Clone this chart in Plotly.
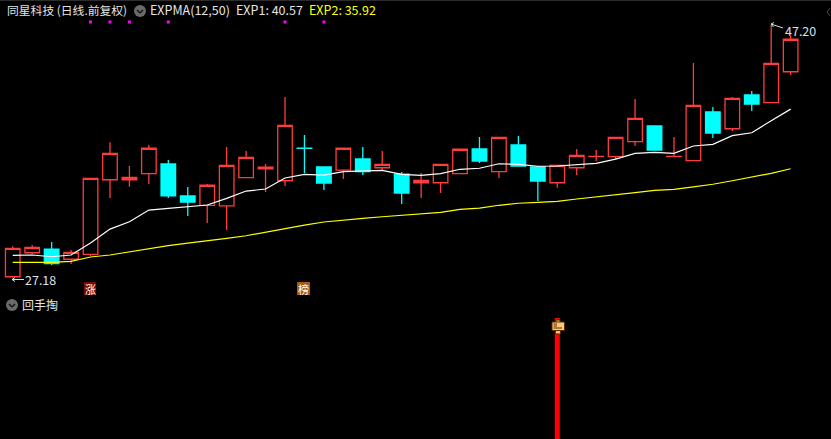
import plotly.graph_objects as go

W, H = 831, 439
FONT = "Noto Sans CJK SC, Noto Sans, sans-serif"

index = list(range(41))
opens = [27.20,29.11,29.40,28.59,28.98,34.91,34.91,35.39,36.16,33.62,32.88,32.84,35.07,35.78,34.83,37.41,35.92,35.68,36.56,35.86,35.36,34.67,34.67,35.39,37.35,35.55,37.67,35.92,34.67,35.86,36.76,36.74,37.93,39.18,36.76,36.42,40.29,38.96,41.64,41.03,43.49]
highs = [29.62,29.72,29.96,29.33,35.02,37.88,36.00,37.67,36.48,34.33,34.57,37.51,37.19,36.16,41.48,38.46,35.92,37.41,37.51,37.19,35.52,35.44,36.13,37.33,38.30,38.28,38.38,35.97,36.05,37.35,37.27,38.28,41.32,39.18,38.30,44.18,40.69,41.48,41.96,47.20,46.33]
lows = [27.18,29.01,28.13,28.21,28.85,33.46,34.35,34.57,33.46,32.03,31.47,30.91,35.07,33.93,34.41,35.44,34.09,34.97,35.28,35.68,32.98,33.46,33.85,35.39,36.24,35.05,36.00,33.22,34.27,35.28,36.40,36.56,37.59,37.27,36.76,36.42,38.22,38.78,40.37,41.03,43.23]
closes = [29.46,29.54,28.24,29.14,35.02,37.01,35.10,37.41,33.62,33.14,34.47,36.05,36.69,35.90,39.23,37.40,34.65,37.41,35.55,36.13,33.85,34.86,36.13,37.33,36.40,38.28,36.00,34.81,36.05,36.85,36.77,38.28,39.79,37.27,36.77,40.82,38.62,41.38,40.92,44.16,46.07]
exp1 = [28.90,28.93,28.79,28.93,29.88,30.99,31.57,32.50,32.64,32.74,32.90,33.43,34.01,34.17,35.05,35.34,35.28,35.55,35.58,35.66,35.34,35.26,35.39,35.74,35.82,36.18,36.13,35.98,36.00,36.10,36.21,36.55,37.01,37.09,37.01,37.59,37.72,38.41,38.64,39.60,40.52]
exp2 = [28.35,28.35,28.35,28.43,28.77,28.93,29.17,29.46,29.67,29.88,30.04,30.25,30.46,30.76,31.07,31.31,31.55,31.71,31.84,31.97,32.08,32.16,32.32,32.56,32.66,32.88,33.04,33.11,33.19,33.38,33.54,33.67,33.88,34.07,34.15,34.35,34.55,34.83,35.10,35.42,35.78]
signal_index = [4, 5, 6, 8, 14, 16]
signal_price = [47.44] * 6
hand_index = [28]
hand_value = [1]

title_text = "同星科技 (日线.前复权)"
indicator_text = "EXPMA(12,50)"
exp1_text = "EXP1: 40.57"
exp2_text = "EXP2: 35.92"
high_text = "47.20"
low_text = "27.18"
panel_text = "回手掏"

RED = "#ff3c3c"
CYAN = "#00ffff"

def px(x): return x / W
def py(y): return 1 - y / H

fig = go.Figure()
fig.add_trace(go.Candlestick(
    x=index, open=opens, high=highs, low=lows, close=closes,
    increasing=dict(line=dict(color=RED, width=1.3), fillcolor="rgba(0,0,0,0)"),
    decreasing=dict(line=dict(color=CYAN, width=1.3), fillcolor=CYAN),
    whiskerwidth=0, showlegend=False, hoverinfo="skip"))
fig.add_trace(go.Scatter(x=index, y=exp1, mode="lines", line=dict(color="#ffffff", width=1.2), showlegend=False, hoverinfo="skip"))
fig.add_trace(go.Scatter(x=index, y=exp2, mode="lines", line=dict(color="#ffff00", width=1.2), showlegend=False, hoverinfo="skip"))
fig.add_trace(go.Scatter(x=signal_index, y=signal_price, mode="markers", marker=dict(symbol="square", size=3, color="#ff00ff"), showlegend=False, hoverinfo="skip"))
fig.add_trace(go.Bar(x=hand_index, y=hand_value, width=[0.26], yaxis="y2", marker=dict(color="#ff0000", line=dict(width=0)), showlegend=False, hoverinfo="skip"))

def text(x, y, s, color="#e4e4e4", size=12, anchor="left"):
    fig.add_annotation(xref="paper", yref="paper", x=px(x), y=py(y), text=s, showarrow=False,
                       xanchor=anchor, yanchor="middle", font=dict(family=FONT, size=size, color=color))

text(5, 10, title_text, size=11.8)
text(148, 10, indicator_text, size=12.5)
text(234, 10, exp1_text, size=12.5)
text(307, 10, exp2_text, color="#ffff00", size=12.5)
text(783, 30, high_text, color="#d6e2ee", size=12.5)
text(23, 279.5, low_text, color="#d6e2ee", size=12.5)
text(20, 304, panel_text, size=12)

shapes = []
def rect(x0, y0, x1, y1, fill, line=None, lw=0):
    shapes.append(dict(type="rect", xref="paper", yref="paper", x0=px(x0), x1=px(x1), y0=py(y0), y1=py(y1),
                       fillcolor=fill, line=dict(color=line or fill, width=lw), layer="above"))
def seg(x0, y0, x1, y1, color, lw=1):
    shapes.append(dict(type="line", xref="paper", yref="paper", x0=px(x0), x1=px(x1), y0=py(y0), y1=py(y1),
                       line=dict(color=color, width=lw), layer="above"))
def chevron(cx, cy):
    shapes.append(dict(type="circle", xref="paper", yref="paper", x0=px(cx-6), x1=px(cx+6), y0=py(cy+6), y1=py(cy-6),
                       fillcolor="#6a6a6a", line=dict(width=0), layer="above"))
    seg(cx-3, cy-1, cx, cy+2, "#111111", 1.4)
    seg(cx, cy+2, cx+3, cy-1, "#111111", 1.4)

chevron(140, 11)
chevron(12, 305)
rect(0, 0, W, 1, "#2c2c2c")
# small chevron at the right edge
seg(830, 8, 827, 12, "#4a4a4a", 1)
seg(827, 12, 830, 16, "#4a4a4a", 1)
# arrows to the high and low labels
seg(771, 24, 783, 28, "#d8d8d8", 1)
seg(771, 24, 774, 22.5, "#d8d8d8", 1)
seg(771, 24, 773.5, 27, "#d8d8d8", 1)
seg(12, 279.5, 24, 279.5, "#d8d8d8", 1)
seg(12, 279.5, 15, 277.5, "#d8d8d8", 1)
seg(12, 279.5, 15, 281.5, "#d8d8d8", 1)
# badges
rect(84, 282, 96, 295, "#7a0a0a")
rect(297, 282, 310, 295, "#a85a14")
text(90, 288.5, "涨", color="#ffffff", size=11, anchor="center")
text(303.5, 288.5, "榜", color="#ffffff", size=11, anchor="center")
# hand marker on the bar
rect(556, 320, 560, 323, "#f6c06a", "#5a2c00", 1)
rect(555.5, 330, 560.5, 334, "#f6c06a", "#5a2c00", 1)
rect(552, 322, 564.5, 330.5, "#fdc773", "#5a2c00", 1)
seg(553.5, 324, 557, 324, "#5a2c00", 1)
seg(553.5, 326, 557, 326, "#5a2c00", 1)
seg(553.5, 328, 562, 328, "#5a2c00", 1)

fig.update_layout(
    width=W, height=H, margin=dict(l=0, r=0, t=0, b=0), autosize=False,
    paper_bgcolor="#000000", plot_bgcolor="#000000", showlegend=False,
    boxgap=0.25, boxgroupgap=0, shapes=shapes,
    xaxis=dict(range=[-0.655, 42.075], visible=False, rangeslider=dict(visible=False), fixedrange=True),
    yaxis=dict(range=[14.31, 49.19], visible=False, fixedrange=True, domain=[0, 1]),
    yaxis2=dict(range=[0, 1], visible=False, fixedrange=True, anchor="x",
                domain=[0, (H - 318) / H]),
)
fig.write_html("out.html", config=dict(displayModeBar=False),
               post_script="document.body.style.margin='0';document.body.style.background='#000';document.body.style.overflow='hidden';")
